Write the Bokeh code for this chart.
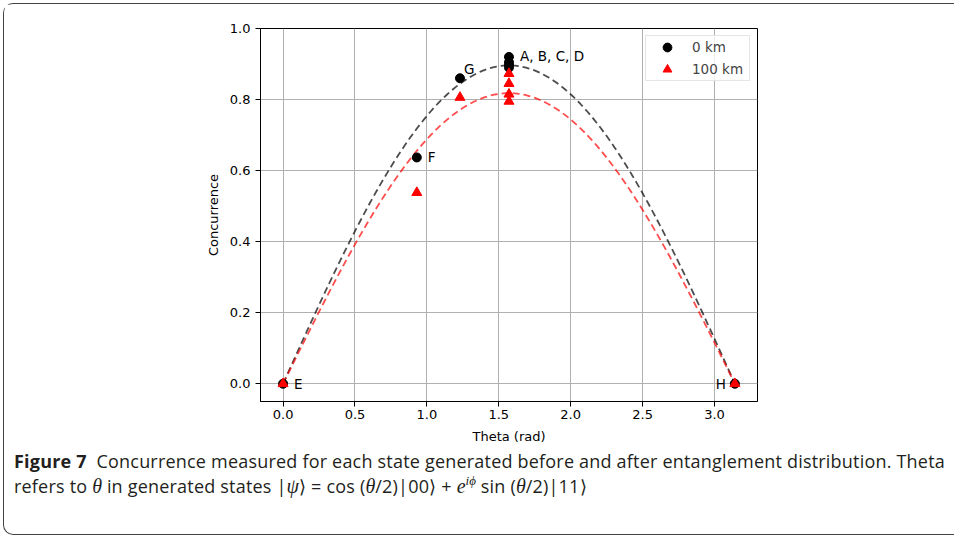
import numpy as np
from bokeh.plotting import figure
from bokeh.models import (Range1d, FixedTicker, Label, Legend, LegendItem, Div,
                          ColumnDataSource, NumeralTickFormatter)
from bokeh.layouts import column
from bokeh.embed import file_html
from bokeh.resources import INLINE

# ---- data ----
state_names = ["A", "B", "C", "D", "E", "F", "G", "H"]
theta = [1.5708, 1.5708, 1.5708, 1.5708, 0.0, 0.93, 1.23, 3.1416]
conc_0km = [0.920, 0.905, 0.897, 0.890, 0.0, 0.637, 0.860, 0.0]
conc_100km = [0.873, 0.845, 0.815, 0.795, 0.0, 0.538, 0.806, 0.0]
# fitted amplitude of C = a * sin(theta)
fit_amp_0km = 0.896
fit_amp_100km = 0.818
x_ticks = [0.0, 0.5, 1.0, 1.5, 2.0, 2.5, 3.0]
y_ticks = [0.0, 0.2, 0.4, 0.6, 0.8, 1.0]

FONT = "DejaVu Sans"

p = figure(width=950, height=446, output_backend="svg", toolbar_location=None,
           x_range=Range1d(-0.157, 3.299), y_range=Range1d(-0.05, 1.0),
           min_border_left=256, min_border_right=197, min_border_top=24,
           min_border_bottom=49)
p.background_fill_color = "white"
p.border_fill_color = "white"
p.outline_line_color = "black"
p.outline_line_width = 1

for ax in (p.xaxis[0], p.yaxis[0]):
    ax.major_label_text_font = FONT
    ax.major_label_text_font_size = "13px"
    ax.major_label_text_color = "black"
    ax.axis_label_text_font = FONT
    ax.axis_label_text_font_size = "13px"
    ax.axis_label_text_font_style = "normal"
    ax.axis_label_text_color = "black"
    ax.major_tick_out = 5
    ax.major_tick_in = 0
    ax.minor_tick_out = 0
    ax.minor_tick_in = 0
    ax.axis_line_color = "black"
    ax.major_tick_line_color = "black"
    ax.formatter = NumeralTickFormatter(format="0.0")

p.xaxis.ticker = FixedTicker(ticks=x_ticks)
p.yaxis.ticker = FixedTicker(ticks=y_ticks)
p.xaxis.axis_label = "Theta (rad)"
p.yaxis.axis_label = "Concurrence"
p.xaxis.major_label_standoff = 3
p.yaxis.major_label_standoff = 5
p.xaxis.axis_label_standoff = 7
p.yaxis.axis_label_standoff = 6

p.xgrid.ticker = FixedTicker(ticks=x_ticks)
p.ygrid.ticker = FixedTicker(ticks=y_ticks)
p.grid.grid_line_color = "#b0b0b0"
p.grid.grid_line_width = 1

# fit curves
tt = np.linspace(0, np.pi, 200)
p.line(tt, fit_amp_0km * np.sin(tt), line_color="black", line_alpha=0.7,
       line_width=1.8, line_dash="7 4")
p.line(tt, fit_amp_100km * np.sin(tt), line_color="red", line_alpha=0.7,
       line_width=1.8, line_dash="7 4")

src = ColumnDataSource(dict(theta=theta, c0=conc_0km, c100=conc_100km))
r0 = p.scatter("theta", "c0", source=src, marker="circle", size=9,
               fill_color="black", line_color="black")
r1 = p.scatter("theta", "c100", source=src, marker="triangle", size=10,
               fill_color="red", line_color="red")

legend = Legend(items=[LegendItem(label="0 km", renderers=[r0]),
                       LegendItem(label="100 km", renderers=[r1])],
                location="top_right")
legend.margin = 7
legend.padding = 0
legend.spacing = 0
legend.glyph_width = 42
legend.glyph_height = 22
legend.label_height = 22
legend.label_width = 57
legend.label_standoff = 4
legend.label_text_font = FONT
legend.label_text_font_size = "13.5px"
legend.border_line_color = "#cccccc"
legend.border_line_width = 1
legend.background_fill_alpha = 0.8
p.add_layout(legend)

# point annotations
def ann(text, x, y, dx, dy, align="left"):
    p.add_layout(Label(x=x, y=y, text=text, x_offset=dx, y_offset=dy,
                       text_font=FONT, text_font_size="13.5px",
                       text_align=align, text_baseline="alphabetic",
                       text_color="black"))

ann("A, B, C, D", theta[0], conc_0km[0], 11, 1)
ann("E", theta[4], conc_0km[4], 11, 0)
ann("F", theta[5], conc_0km[5], 11, 0)
ann("G", theta[6], conc_0km[6], 4, 9)
ann("H", theta[7], conc_0km[7], -9, 0, align="right")

M = "font-family:'Liberation Serif';font-style:italic;font-size:20px;letter-spacing:0"
SUP = ("font-family:'Liberation Serif';font-style:italic;font-size:13px;"
       "position:relative;top:-0.6em;letter-spacing:0")
caption_html = (
    "<div style=\"position:relative;top:-6px\">"
    "<b>Figure 7</b>&nbsp; Concurrence measured for each state generated before and "
    "after entanglement distribution. Theta<br>refers to "
    f"<span style=\"{M}\">&theta;</span> in generated "
    f"states |<span style=\"{M}\">&psi;</span>&rang; = cos (<span style=\"{M}\">&theta;</span>/2)|00&rang; + "
    f"<span style=\"{M}\">e</span><span style=\"{SUP}\">i&#981;</span> sin "
    f"(<span style=\"{M}\">&theta;</span>/2)|11&rang;"
    "</div>"
)
cap = Div(text=caption_html, width=950, height=74,
          styles={"font-family": "Open Sans", "font-size": "18px", "line-height": "25px",
                  "letter-spacing": "0.2px",
                  "color": "#231f20", "padding-left": "5px", "padding-top": "0px",
                  "white-space": "nowrap"})

layout = column(p, cap, styles={"border-left": "1.5px solid #444",
                                "border-top": "1.5px solid #444",
                                "border-bottom": "1.5px solid #444",
                                "border-radius": "10px 0 0 10px",
                                "margin-left": "3px", "margin-top": "3px"})

with open("out.html", "w") as f:
    f.write(file_html(layout, INLINE))
